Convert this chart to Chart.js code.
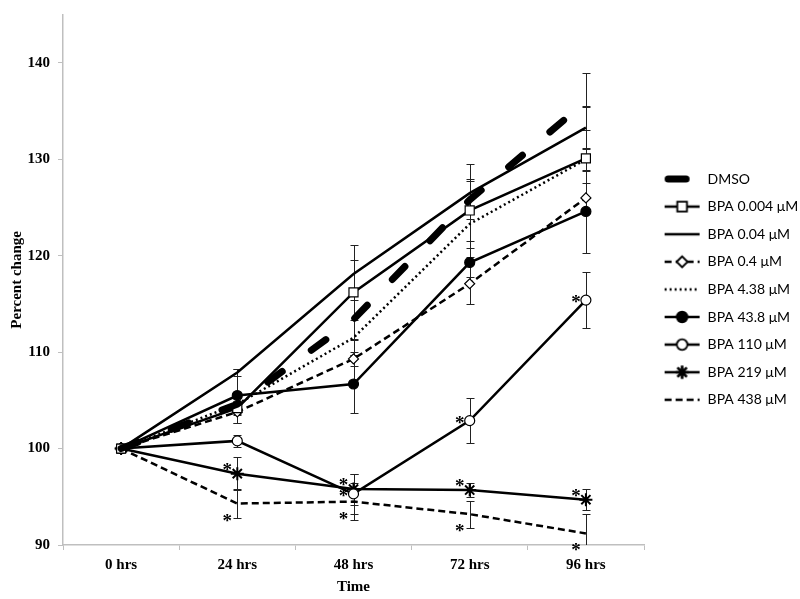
<!DOCTYPE html>
<html>
<head>
<meta charset="utf-8">
<script src="https://cdn.jsdelivr.net/npm/chart.js@4.4.1/dist/chart.umd.min.js"></script>
<style>
  html, body { margin: 0; padding: 0; background: #fff; }
  canvas { display: block; }
</style>
</head>
<body>
<canvas id="grafico" width="800" height="599"></canvas>
<script>
// Dados
const tempos = ['0 hrs', '24 hrs', '48 hrs', '72 hrs', '96 hrs'];
const nomes = ['DMSO', 'BPA 0.004 μM', 'BPA 0.04 μM', 'BPA 0.4 μM', 'BPA 4.38 μM',
  'BPA 43.8 μM', 'BPA 110 μM', 'BPA 219 μM', 'BPA 438 μM'];

const dmso    = [100, 104.6, 113.4, 125.8, 136.0];
const bpa0004 = [100, 104.2, 116.2, 124.7, 130.1];
const bpa004  = [100, 107.9, 118.1, 126.5, 133.3];
const bpa04   = [100, 103.8, 109.3, 117.1, 126.0];
const bpa438  = [100, 104.6, 111.5, 123.3, 130.0];
const bpa438b = [100, 105.5, 106.7, 119.3, 124.6];
const bpa110  = [100, 100.8, 95.3, 102.9, 115.4];
const bpa219  = [100, 97.4, 95.8, 95.7, 94.7];
const bpa438c = [100, 94.3, 94.5, 93.2, 91.2];

// barras de erro (+/-)
const erroDmso    = [0, 1.0, 2.0, 2.0, 3.0];
const erro0004    = [0, 0.7, 4.9, 4.8, 5.3];
const erro004     = [0, 0.4, 1.5, 1.5, 2.2];
const erro04      = [0, 1.1, 0.7, 2.1, 1.5];
const erro438     = [0, 0.8, 1.8, 1.8, 1.2];
const erro438b    = [0, 2.8, 3.0, 1.5, 4.3];
const erro110     = [0, 0.6, 2.1, 2.3, 2.9];
const erro219     = [0, 1.7, 1.6, 0.7, 1.1];
const erro438c    = [0, 1.5, 1.9, 1.4, 2.0];

// asteriscos de significancia
const sig110 = [0, 0, 1, 1, 1];
const sig219 = [0, 1, 1, 1, 1];
const sig438 = [0, 1, 1, 1, 1];

const valores = [dmso, bpa0004, bpa004, bpa04, bpa438, bpa438b, bpa110, bpa219, bpa438c];
const erros = [erroDmso, erro0004, erro004, erro04, erro438, erro438b, erro110, erro219, erro438c];
const asteriscos = [null, null, null, null, null, null, sig110, sig219, sig438];

// estilos de cada serie
const estilos = [
  { w: 7, dash: [18, 36], cap: 'round', ponto: false },
  { w: 2.5, dash: [], ponto: 'rect', raio: 6.4, fill: '#fff' },
  { w: 2.5, dash: [], ponto: false },
  { w: 2.5, dash: [7, 4], ponto: 'rectRot', raio: 5, fill: '#fff' },
  { w: 2.5, dash: [2, 3], ponto: false },
  { w: 2.5, dash: [], ponto: 'circle', raio: 5, fill: '#000' },
  { w: 2.5, dash: [], ponto: 'circle', raio: 5, fill: '#fff' },
  { w: 2.5, dash: [], ponto: 'star', raio: 6.5, fill: '#000' },
  { w: 2.5, dash: [7, 4], ponto: false }
];
const deslocAst = [null, null, null, null, null, null, -3, -9, 12];

Chart.defaults.color = '#000';
const fonteEixo = { family: 'Liberation Serif', size: 15, weight: 'bold' };

const datasets = valores.map((v, i) => {
  const e = estilos[i];
  return {
    label: nomes[i],
    data: v,
    borderColor: '#000',
    borderWidth: e.w,
    borderDash: e.dash,
    borderCapStyle: e.cap || 'butt',
    tension: 0,
    fill: false,
    pointStyle: e.ponto || 'circle',
    pointRadius: e.ponto ? e.raio : 0,
    pointBackgroundColor: e.fill || '#000',
    pointBorderColor: '#000',
    pointBorderWidth: e.ponto === 'star' ? 2 : 1.2
  };
});

// icone da legenda: linha + marcador
function iconeLegenda(i) {
  const e = estilos[i];
  const c = document.createElement('canvas');
  c.width = 43; c.height = 16;
  const g = c.getContext('2d');
  g.strokeStyle = '#000';
  g.lineWidth = e.w;
  g.lineCap = e.cap || 'butt';
  g.setLineDash(e.dash);
  g.beginPath();
  if (i === 0) { g.moveTo(10.5, 8); g.lineTo(28.5, 8); }
  else { g.moveTo(7, 8); g.lineTo(42, 8); }
  g.stroke();
  g.setLineDash([]);
  if (e.ponto) {
    Chart.helpers.drawPoint(g, {
      pointStyle: e.ponto, radius: e.raio, rotation: 0,
      borderWidth: e.ponto === 'star' ? 2 : 1.2
    }, 24.5, 8);
    g.fillStyle = e.fill;
    g.lineWidth = e.ponto === 'star' ? 2 : 1.2;
    g.fill();
    g.stroke();
  }
  return c;
}
const icones = nomes.map((n, i) => iconeLegenda(i));

const barrasErro = {
  id: 'barrasErro',
  beforeDatasetsDraw(chart) {
    const { ctx, chartArea, scales: { x, y } } = chart;
    ctx.save();
    ctx.beginPath();
    ctx.rect(chartArea.left, chartArea.top, chartArea.width, chartArea.height);
    ctx.clip();
    ctx.strokeStyle = '#222';
    ctx.lineWidth = 1;
    valores.forEach((serie, i) => {
      serie.forEach((v, j) => {
        const e = erros[i][j];
        if (!e) return;
        const px = Math.round(x.getPixelForValue(j)) + 0.5;
        const yt = Math.round(y.getPixelForValue(v + e)) + 0.5;
        const yb = Math.round(y.getPixelForValue(v - e)) + 0.5;
        ctx.beginPath();
        ctx.moveTo(px, yt); ctx.lineTo(px, yb);
        ctx.moveTo(px - 4, yt); ctx.lineTo(px + 4, yt);
        ctx.moveTo(px - 4, yb); ctx.lineTo(px + 4, yb);
        ctx.stroke();
      });
    });
    ctx.restore();
  }
};

const marcaAsterisco = {
  id: 'marcaAsterisco',
  afterDatasetsDraw(chart) {
    const { ctx, scales: { x, y } } = chart;
    ctx.save();
    ctx.fillStyle = '#000';
    ctx.font = 'bold 19px "Liberation Serif"';
    ctx.textAlign = 'center';
    ctx.textBaseline = 'alphabetic';
    asteriscos.forEach((sig, i) => {
      if (!sig) return;
      sig.forEach((s, j) => {
        if (!s) return;
        const px = x.getPixelForValue(j) - 10;
        const py = y.getPixelForValue(valores[i][j]) + deslocAst[i];
        ctx.fillText('*', px, py + 11);
      });
    });
    ctx.restore();
  }
};

new Chart(document.getElementById('grafico'), {
  type: 'line',
  data: { labels: tempos, datasets: datasets },
  plugins: [barrasErro, marcaAsterisco],
  options: {
    responsive: false,
    animation: false,
    devicePixelRatio: 1,
    layout: { padding: { top: 7, right: 0, bottom: 0, left: 0 } },
    plugins: {
      tooltip: { enabled: false },
      legend: {
        position: 'right',
        align: 'start',
        maxWidth: 156,
        title: { display: true, text: ' ', font: { size: 12 }, padding: { top: 137, bottom: 0 } },
        labels: {
          usePointStyle: true,
          pointStyleWidth: 43,
          padding: 13.6,
          color: '#000',
          font: { family: 'Lato', size: 14 },
          generateLabels: (chart) => chart.data.datasets.map((ds, i) => ({
            text: ds.label,
            pointStyle: icones[i],
            fillStyle: '#000',
            strokeStyle: '#000',
            lineWidth: 0,
            hidden: false,
            datasetIndex: i
          }))
        }
      }
    },
    scales: {
      x: {
        offset: true,
        grid: { offset: true, drawOnChartArea: false, tickLength: 5, color: '#bfbfbf' },
        border: { color: '#bfbfbf', width: 1.5 },
        ticks: { font: fonteEixo, color: '#000', padding: 6 },
        title: { display: true, text: 'Time', font: fonteEixo, color: '#000', padding: { top: 4, bottom: 3 } },
        afterFit: (s) => { s.height = 54; }
      },
      y: {
        min: 90,
        max: 145,
        afterBuildTicks: (s) => { s.ticks = s.ticks.filter(t => t.value % 10 === 0); },
        grid: { drawOnChartArea: false, tickLength: 5, color: '#bfbfbf' },
        border: { color: '#bfbfbf', width: 1.5 },
        ticks: { stepSize: 10, font: { family: 'Liberation Serif', size: 15, weight: 'bold', lineHeight: 0.9 }, color: '#000', padding: 8 },
        title: { display: true, text: 'Percent change', font: fonteEixo, color: '#000', padding: { top: 8, bottom: 1 } },
        afterFit: (s) => { s.width = 63; }
      }
    }
  }
});
</script>
</body>
</html>
